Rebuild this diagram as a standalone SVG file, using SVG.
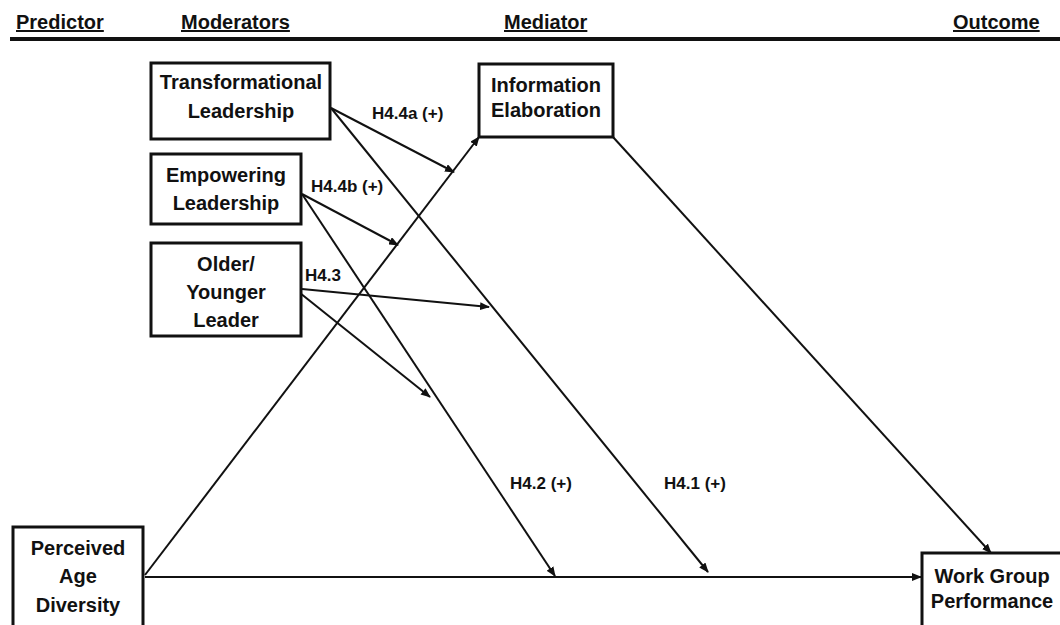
<svg xmlns="http://www.w3.org/2000/svg" width="1060" height="625" viewBox="0 0 1060 625">
<style>
text{font-family:"Liberation Sans",Arial,sans-serif;font-weight:bold;font-size:20px;fill:#111;text-anchor:middle}
.hdr{text-anchor:start;text-decoration:underline}
.lbl{font-size:17px;text-anchor:start}
.box{fill:#fff;stroke:#111;stroke-width:3}
.conn line{stroke:#111;stroke-width:2}
</style>
<defs>
<marker id="ah" markerUnits="userSpaceOnUse" markerWidth="10" markerHeight="8" refX="9" refY="4" orient="auto">
<path d="M0,0 L10,4 L0,8 z" fill="#111"/>
</marker>
</defs>
<rect width="1060" height="625" fill="#fff"/>
<g id="header">
<text class="hdr" x="16" y="29">Predictor</text>
<text class="hdr" x="181" y="29">Moderators</text>
<text class="hdr" x="504" y="29">Mediator</text>
<text class="hdr" x="953" y="29">Outcome</text>
<line x1="10" y1="39" x2="1060" y2="39" stroke="#111" stroke-width="4"/>
</g>
<g class="conn" id="connectors">
<line x1="145" y1="575" x2="479" y2="137" marker-end="url(#ah)"/>
<line x1="145" y1="577" x2="921" y2="577" marker-end="url(#ah)"/>
<line x1="613" y1="137" x2="991" y2="553" marker-end="url(#ah)"/>
<line x1="331" y1="108" x2="454" y2="172" marker-end="url(#ah)"/>
<line x1="331" y1="108" x2="708" y2="572" marker-end="url(#ah)"/>
<line x1="302" y1="194" x2="398" y2="245" marker-end="url(#ah)"/>
<line x1="302" y1="194" x2="555" y2="576" marker-end="url(#ah)"/>
<line x1="302" y1="289" x2="489" y2="307" marker-end="url(#ah)"/>
<line x1="300" y1="293" x2="430" y2="397" marker-end="url(#ah)"/>
</g>
<g id="labels">
<text class="lbl" x="372" y="119">H4.4a (+)</text>
<text class="lbl" x="311" y="192">H4.4b (+)</text>
<text class="lbl" x="305" y="281">H4.3</text>
<text class="lbl" x="510" y="489">H4.2 (+)</text>
<text class="lbl" x="664" y="489">H4.1 (+)</text>
</g>
<g id="transformational">
<rect class="box" x="151" y="63" width="179" height="76"/>
<text x="241" y="89">Transformational</text>
<text x="241" y="118">Leadership</text>
</g>
<g id="empowering">
<rect class="box" x="151" y="154" width="150" height="70"/>
<text x="226" y="182">Empowering</text>
<text x="226" y="210">Leadership</text>
</g>
<g id="olderyounger">
<rect class="box" x="151" y="243" width="150" height="93"/>
<text x="226" y="271">Older/</text>
<text x="226" y="299">Younger</text>
<text x="226" y="327">Leader</text>
</g>
<g id="infoelab">
<rect class="box" x="479" y="64" width="134" height="73"/>
<text x="546" y="92">Information</text>
<text x="546" y="117">Elaboration</text>
</g>
<g id="perceived">
<rect class="box" x="13" y="527" width="130" height="110"/>
<text x="78" y="555">Perceived</text>
<text x="78" y="583">Age</text>
<text x="78" y="612">Diversity</text>
</g>
<g id="workgroup">
<rect class="box" x="922" y="553" width="142" height="90"/>
<text x="992" y="583">Work Group</text>
<text x="992" y="608">Performance</text>
</g>
</svg>
